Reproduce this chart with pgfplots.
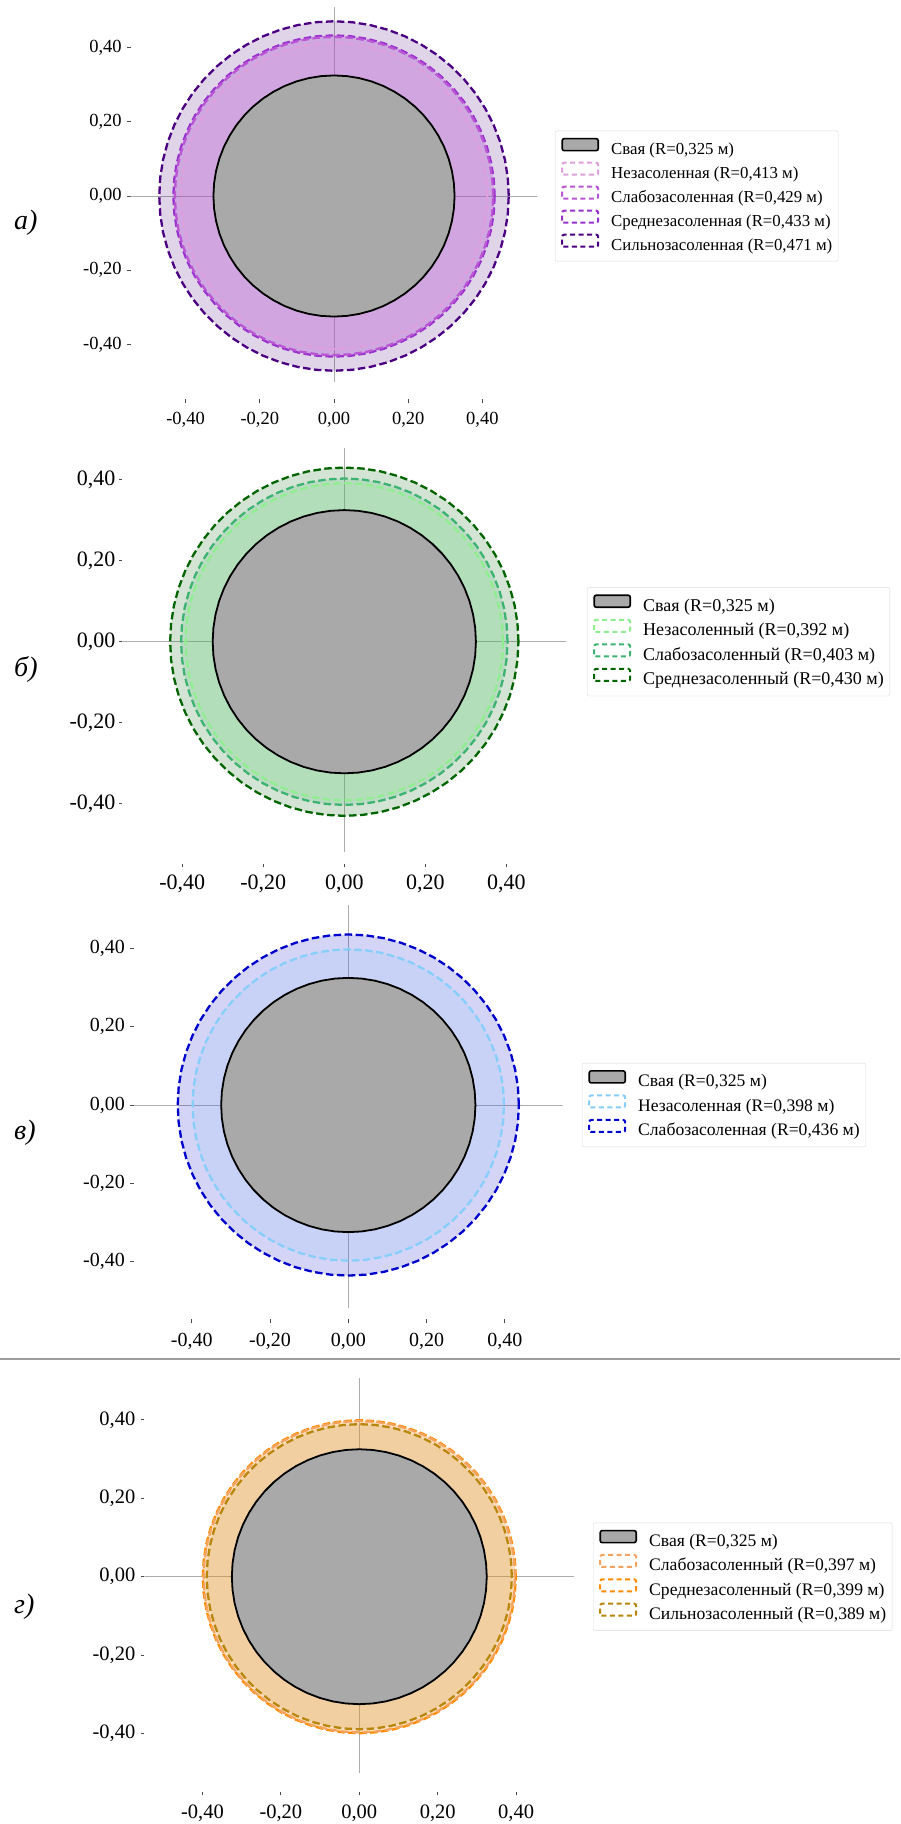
\documentclass[border=0pt]{standalone}
\usepackage{fontspec}
\setmainfont{Liberation Serif}
\usepackage{pgfplots}
\usepackage{pgfplotstable}
\pgfplotsset{compat=1.18}

\definecolor{pilegray}{HTML}{A9A9A9}
\definecolor{cplum}{HTML}{DDA0DD}
\definecolor{cmorchid}{HTML}{BA55D3}
\definecolor{cdorchid}{HTML}{9932CC}
\definecolor{cindigo}{HTML}{4B0082}
\definecolor{clgreen}{HTML}{90EE90}
\definecolor{cseagreen}{HTML}{3CB371}
\definecolor{cdgreen}{HTML}{006400}
\definecolor{clsky}{HTML}{87CEFA}
\definecolor{cmblue}{HTML}{0000CD}
\definecolor{csandy}{HTML}{F4A460}
\definecolor{cdorange}{HTML}{FF8C00}
\definecolor{cgoldenrod}{HTML}{B8860B}

% polar tables: angle (deg) and radius (m) of every contour
\pgfplotstableread{
ang pile r1 r2 r3 r4
0 0.325 0.413 0.429 0.433 0.471
6 0.325 0.413 0.429 0.433 0.471
12 0.325 0.413 0.429 0.433 0.471
18 0.325 0.413 0.429 0.433 0.471
24 0.325 0.413 0.429 0.433 0.471
30 0.325 0.413 0.429 0.433 0.471
36 0.325 0.413 0.429 0.433 0.471
42 0.325 0.413 0.429 0.433 0.471
48 0.325 0.413 0.429 0.433 0.471
54 0.325 0.413 0.429 0.433 0.471
60 0.325 0.413 0.429 0.433 0.471
66 0.325 0.413 0.429 0.433 0.471
72 0.325 0.413 0.429 0.433 0.471
78 0.325 0.413 0.429 0.433 0.471
84 0.325 0.413 0.429 0.433 0.471
90 0.325 0.413 0.429 0.433 0.471
96 0.325 0.413 0.429 0.433 0.471
102 0.325 0.413 0.429 0.433 0.471
108 0.325 0.413 0.429 0.433 0.471
114 0.325 0.413 0.429 0.433 0.471
120 0.325 0.413 0.429 0.433 0.471
126 0.325 0.413 0.429 0.433 0.471
132 0.325 0.413 0.429 0.433 0.471
138 0.325 0.413 0.429 0.433 0.471
144 0.325 0.413 0.429 0.433 0.471
150 0.325 0.413 0.429 0.433 0.471
156 0.325 0.413 0.429 0.433 0.471
162 0.325 0.413 0.429 0.433 0.471
168 0.325 0.413 0.429 0.433 0.471
174 0.325 0.413 0.429 0.433 0.471
180 0.325 0.413 0.429 0.433 0.471
186 0.325 0.413 0.429 0.433 0.471
192 0.325 0.413 0.429 0.433 0.471
198 0.325 0.413 0.429 0.433 0.471
204 0.325 0.413 0.429 0.433 0.471
210 0.325 0.413 0.429 0.433 0.471
216 0.325 0.413 0.429 0.433 0.471
222 0.325 0.413 0.429 0.433 0.471
228 0.325 0.413 0.429 0.433 0.471
234 0.325 0.413 0.429 0.433 0.471
240 0.325 0.413 0.429 0.433 0.471
246 0.325 0.413 0.429 0.433 0.471
252 0.325 0.413 0.429 0.433 0.471
258 0.325 0.413 0.429 0.433 0.471
264 0.325 0.413 0.429 0.433 0.471
270 0.325 0.413 0.429 0.433 0.471
276 0.325 0.413 0.429 0.433 0.471
282 0.325 0.413 0.429 0.433 0.471
288 0.325 0.413 0.429 0.433 0.471
294 0.325 0.413 0.429 0.433 0.471
300 0.325 0.413 0.429 0.433 0.471
306 0.325 0.413 0.429 0.433 0.471
312 0.325 0.413 0.429 0.433 0.471
318 0.325 0.413 0.429 0.433 0.471
324 0.325 0.413 0.429 0.433 0.471
330 0.325 0.413 0.429 0.433 0.471
336 0.325 0.413 0.429 0.433 0.471
342 0.325 0.413 0.429 0.433 0.471
348 0.325 0.413 0.429 0.433 0.471
354 0.325 0.413 0.429 0.433 0.471
360 0.325 0.413 0.429 0.433 0.471
}\ringsA

\pgfplotstableread{
ang pile r1 r2 r3
0 0.325 0.392 0.403 0.430
6 0.325 0.392 0.403 0.430
12 0.325 0.392 0.403 0.430
18 0.325 0.392 0.403 0.430
24 0.325 0.392 0.403 0.430
30 0.325 0.392 0.403 0.430
36 0.325 0.392 0.403 0.430
42 0.325 0.392 0.403 0.430
48 0.325 0.392 0.403 0.430
54 0.325 0.392 0.403 0.430
60 0.325 0.392 0.403 0.430
66 0.325 0.392 0.403 0.430
72 0.325 0.392 0.403 0.430
78 0.325 0.392 0.403 0.430
84 0.325 0.392 0.403 0.430
90 0.325 0.392 0.403 0.430
96 0.325 0.392 0.403 0.430
102 0.325 0.392 0.403 0.430
108 0.325 0.392 0.403 0.430
114 0.325 0.392 0.403 0.430
120 0.325 0.392 0.403 0.430
126 0.325 0.392 0.403 0.430
132 0.325 0.392 0.403 0.430
138 0.325 0.392 0.403 0.430
144 0.325 0.392 0.403 0.430
150 0.325 0.392 0.403 0.430
156 0.325 0.392 0.403 0.430
162 0.325 0.392 0.403 0.430
168 0.325 0.392 0.403 0.430
174 0.325 0.392 0.403 0.430
180 0.325 0.392 0.403 0.430
186 0.325 0.392 0.403 0.430
192 0.325 0.392 0.403 0.430
198 0.325 0.392 0.403 0.430
204 0.325 0.392 0.403 0.430
210 0.325 0.392 0.403 0.430
216 0.325 0.392 0.403 0.430
222 0.325 0.392 0.403 0.430
228 0.325 0.392 0.403 0.430
234 0.325 0.392 0.403 0.430
240 0.325 0.392 0.403 0.430
246 0.325 0.392 0.403 0.430
252 0.325 0.392 0.403 0.430
258 0.325 0.392 0.403 0.430
264 0.325 0.392 0.403 0.430
270 0.325 0.392 0.403 0.430
276 0.325 0.392 0.403 0.430
282 0.325 0.392 0.403 0.430
288 0.325 0.392 0.403 0.430
294 0.325 0.392 0.403 0.430
300 0.325 0.392 0.403 0.430
306 0.325 0.392 0.403 0.430
312 0.325 0.392 0.403 0.430
318 0.325 0.392 0.403 0.430
324 0.325 0.392 0.403 0.430
330 0.325 0.392 0.403 0.430
336 0.325 0.392 0.403 0.430
342 0.325 0.392 0.403 0.430
348 0.325 0.392 0.403 0.430
354 0.325 0.392 0.403 0.430
360 0.325 0.392 0.403 0.430
}\ringsB

\pgfplotstableread{
ang pile r1 r2
0 0.325 0.398 0.436
6 0.325 0.398 0.436
12 0.325 0.398 0.436
18 0.325 0.398 0.436
24 0.325 0.398 0.436
30 0.325 0.398 0.436
36 0.325 0.398 0.436
42 0.325 0.398 0.436
48 0.325 0.398 0.436
54 0.325 0.398 0.436
60 0.325 0.398 0.436
66 0.325 0.398 0.436
72 0.325 0.398 0.436
78 0.325 0.398 0.436
84 0.325 0.398 0.436
90 0.325 0.398 0.436
96 0.325 0.398 0.436
102 0.325 0.398 0.436
108 0.325 0.398 0.436
114 0.325 0.398 0.436
120 0.325 0.398 0.436
126 0.325 0.398 0.436
132 0.325 0.398 0.436
138 0.325 0.398 0.436
144 0.325 0.398 0.436
150 0.325 0.398 0.436
156 0.325 0.398 0.436
162 0.325 0.398 0.436
168 0.325 0.398 0.436
174 0.325 0.398 0.436
180 0.325 0.398 0.436
186 0.325 0.398 0.436
192 0.325 0.398 0.436
198 0.325 0.398 0.436
204 0.325 0.398 0.436
210 0.325 0.398 0.436
216 0.325 0.398 0.436
222 0.325 0.398 0.436
228 0.325 0.398 0.436
234 0.325 0.398 0.436
240 0.325 0.398 0.436
246 0.325 0.398 0.436
252 0.325 0.398 0.436
258 0.325 0.398 0.436
264 0.325 0.398 0.436
270 0.325 0.398 0.436
276 0.325 0.398 0.436
282 0.325 0.398 0.436
288 0.325 0.398 0.436
294 0.325 0.398 0.436
300 0.325 0.398 0.436
306 0.325 0.398 0.436
312 0.325 0.398 0.436
318 0.325 0.398 0.436
324 0.325 0.398 0.436
330 0.325 0.398 0.436
336 0.325 0.398 0.436
342 0.325 0.398 0.436
348 0.325 0.398 0.436
354 0.325 0.398 0.436
360 0.325 0.398 0.436
}\ringsC

\pgfplotstableread{
ang pile r1 r2 r3
0 0.325 0.397 0.399 0.389
6 0.325 0.397 0.399 0.389
12 0.325 0.397 0.399 0.389
18 0.325 0.397 0.399 0.389
24 0.325 0.397 0.399 0.389
30 0.325 0.397 0.399 0.389
36 0.325 0.397 0.399 0.389
42 0.325 0.397 0.399 0.389
48 0.325 0.397 0.399 0.389
54 0.325 0.397 0.399 0.389
60 0.325 0.397 0.399 0.389
66 0.325 0.397 0.399 0.389
72 0.325 0.397 0.399 0.389
78 0.325 0.397 0.399 0.389
84 0.325 0.397 0.399 0.389
90 0.325 0.397 0.399 0.389
96 0.325 0.397 0.399 0.389
102 0.325 0.397 0.399 0.389
108 0.325 0.397 0.399 0.389
114 0.325 0.397 0.399 0.389
120 0.325 0.397 0.399 0.389
126 0.325 0.397 0.399 0.389
132 0.325 0.397 0.399 0.389
138 0.325 0.397 0.399 0.389
144 0.325 0.397 0.399 0.389
150 0.325 0.397 0.399 0.389
156 0.325 0.397 0.399 0.389
162 0.325 0.397 0.399 0.389
168 0.325 0.397 0.399 0.389
174 0.325 0.397 0.399 0.389
180 0.325 0.397 0.399 0.389
186 0.325 0.397 0.399 0.389
192 0.325 0.397 0.399 0.389
198 0.325 0.397 0.399 0.389
204 0.325 0.397 0.399 0.389
210 0.325 0.397 0.399 0.389
216 0.325 0.397 0.399 0.389
222 0.325 0.397 0.399 0.389
228 0.325 0.397 0.399 0.389
234 0.325 0.397 0.399 0.389
240 0.325 0.397 0.399 0.389
246 0.325 0.397 0.399 0.389
252 0.325 0.397 0.399 0.389
258 0.325 0.397 0.399 0.389
264 0.325 0.397 0.399 0.389
270 0.325 0.397 0.399 0.389
276 0.325 0.397 0.399 0.389
282 0.325 0.397 0.399 0.389
288 0.325 0.397 0.399 0.389
294 0.325 0.397 0.399 0.389
300 0.325 0.397 0.399 0.389
306 0.325 0.397 0.399 0.389
312 0.325 0.397 0.399 0.389
318 0.325 0.397 0.399 0.389
324 0.325 0.397 0.399 0.389
330 0.325 0.397 0.399 0.389
336 0.325 0.397 0.399 0.389
342 0.325 0.397 0.399 0.389
348 0.325 0.397 0.399 0.389
354 0.325 0.397 0.399 0.389
360 0.325 0.397 0.399 0.389
}\ringsD

\pgfplotsset{
  ring panel/.style={
    anchor=origin,
    xmin=-0.548, xmax=0.548, ymin=-0.548, ymax=0.548,
    axis x line*=bottom, axis y line*=left,
    axis line style={draw=none},
    xtick={-0.4,-0.2,0,0.2,0.4}, ytick={-0.4,-0.2,0,0.2,0.4},
    tick align=outside, major tick length=3.5pt,
    tick style={color=black!70, line width=0.9pt},
    /pgf/number format/.cd, fixed, fixed zerofill, precision=2, use comma,
      assume math mode=true, /pgfplots/.cd,
    legend cell align=left,
    legend style={draw=black!15, rounded corners=2pt, fill=white,
      anchor=west, inner xsep=6pt, inner ysep=7pt, column sep=12pt},
  },
  zone/.style={draw=#1, fill=#1, fill opacity=0.17, line width=2.3pt,
    dash pattern=on 7.5pt off 3.5pt, data cs=polar, forget plot},
  pile/.style={draw=black, fill=pilegray, line width=1.8pt,
    data cs=polar, forget plot},
  zeroline/.style={draw=black!32, line width=0.6pt, forget plot},
  zone key/.style={legend image code/.code={%
    \draw[draw=#1, line width=2pt, dash pattern=on 5pt off 3.5pt, fill=white]
      (0pt,-0.5pt) rectangle (36pt,11.5pt);}},
  pile key/.style={legend image code/.code={%
    \draw[draw=black, fill=pilegray, line width=1.6pt]
      (0pt,-0.5pt) rectangle (36pt,11.5pt);}},
}

\begin{document}
\begin{tikzpicture}
\useasboundingbox (0pt,0pt) rectangle (900pt,-1824pt);
\fill[white] (0pt,0pt) rectangle (900pt,-1824pt);

% ---- а) ----
\begin{axis}[ring panel, at={(334pt,-196pt)}, x=371pt, y=371pt,
  ticklabel style={font=\fontsize{18.5}{20}\selectfont},
  xticklabel style={yshift=-6pt}, yticklabel style={xshift=-2pt},
  legend style={at={(1.0435,0.5)}, font=\fontsize{16.8}{19}\selectfont,
    row sep=3.5pt, nodes={inner sep=0pt, text height=12pt, text depth=4pt}}]
\addlegendimage{pile key}\addlegendentry{Свая (R=0,325 м)}
\addlegendimage{zone key=cplum}\addlegendentry{Незасоленная (R=0,413 м)}
\addlegendimage{zone key=cmorchid}\addlegendentry{Слабозасоленная (R=0,429 м)}
\addlegendimage{zone key=cdorchid}\addlegendentry{Среднезасоленная (R=0,433 м)}
\addlegendimage{zone key=cindigo}\addlegendentry{Сильнозасоленная (R=0,471 м)}
\addplot[zeroline] coordinates {(-0.55,0) (0.55,0)};
\addplot[zeroline] coordinates {(0,-0.5) (0,0.51)};
\addplot[zone=cindigo] table[x=ang, y=r4] {\ringsA};
\addplot[zone=cdorchid] table[x=ang, y=r3] {\ringsA};
\addplot[zone=cmorchid] table[x=ang, y=r2] {\ringsA};
\addplot[zone=cplum] table[x=ang, y=r1] {\ringsA};
\addplot[pile] table[x=ang, y=pile] {\ringsA};
\end{axis}

% ---- б) ----
\begin{axis}[ring panel, at={(344.3pt,-641.7pt)}, x=405pt, y=405pt,
  ticklabel style={font=\fontsize{22}{24}\selectfont},
  xticklabel style={yshift=-4.5pt},
  legend style={at={(1.0468,0.5)}, font=\fontsize{18}{20}\selectfont,
    row sep=3.4pt, nodes={inner sep=0pt, text height=13pt, text depth=4.3pt}}]
\addlegendimage{pile key}\addlegendentry{Свая (R=0,325 м)}
\addlegendimage{zone key=clgreen}\addlegendentry{Незасоленный (R=0,392 м)}
\addlegendimage{zone key=cseagreen}\addlegendentry{Слабозасоленный (R=0,403 м)}
\addlegendimage{zone key=cdgreen}\addlegendentry{Среднезасоленный (R=0,430 м)}
\addplot[zeroline] coordinates {(-0.55,0) (0.55,0)};
\addplot[zeroline] coordinates {(0,-0.52) (0,0.478)};
\addplot[zone=cdgreen] table[x=ang, y=r3] {\ringsB};
\addplot[zone=cseagreen] table[x=ang, y=r2] {\ringsB};
\addplot[zone=clgreen] table[x=ang, y=r1] {\ringsB};
\addplot[pile] table[x=ang, y=pile] {\ringsB};
\end{axis}

% ---- в) ----
\begin{axis}[ring panel, at={(348.3pt,-1105pt)}, x=391.2pt, y=391.2pt,
  ticklabel style={font=\fontsize{20}{22}\selectfont},
  xticklabel style={yshift=-7pt}, yticklabel style={xshift=-2pt},
  legend style={at={(1.0451,0.5)}, font=\fontsize{17.6}{20}\selectfont,
    row sep=3.6pt, nodes={inner sep=0pt, text height=12.7pt, text depth=4.2pt}}]
\addlegendimage{pile key}\addlegendentry{Свая (R=0,325 м)}
\addlegendimage{zone key=clsky}\addlegendentry{Незасоленная (R=0,398 м)}
\addlegendimage{zone key=cmblue}\addlegendentry{Слабозасоленная (R=0,436 м)}
\addplot[zeroline] coordinates {(-0.55,0) (0.55,0)};
\addplot[zeroline] coordinates {(0,-0.52) (0,0.51)};
\addplot[zone=cmblue] table[x=ang, y=r2] {\ringsC};
\addplot[zone=clsky] table[x=ang, y=r1] {\ringsC};
\addplot[pile] table[x=ang, y=pile] {\ringsC};
\end{axis}

% ---- г) ----
\begin{axis}[ring panel, at={(359.3pt,-1576.7pt)}, x=392.2pt, y=392.2pt,
  ticklabel style={font=\fontsize{20.5}{22}\selectfont},
  xticklabel style={yshift=-6pt}, yticklabel style={xshift=-2pt},
  legend style={at={(1.0437,0.5)}, font=\fontsize{17.6}{20}\selectfont,
    row sep=3.4pt, nodes={inner sep=0pt, text height=12.7pt, text depth=4.2pt}}]
\addlegendimage{pile key}\addlegendentry{Свая (R=0,325 м)}
\addlegendimage{zone key=csandy}\addlegendentry{Слабозасоленный (R=0,397 м)}
\addlegendimage{zone key=cdorange}\addlegendentry{Среднезасоленный (R=0,399 м)}
\addlegendimage{zone key=cgoldenrod}\addlegendentry{Сильнозасоленный (R=0,389 м)}
\addplot[zeroline] coordinates {(-0.55,0) (0.55,0)};
\addplot[zeroline] coordinates {(0,-0.5) (0,0.506)};
\addplot[zone=cdorange] table[x=ang, y=r2] {\ringsD};
\addplot[zone=csandy] table[x=ang, y=r1] {\ringsD};
\addplot[zone=cgoldenrod] table[x=ang, y=r3] {\ringsD};
\addplot[pile] table[x=ang, y=pile] {\ringsD};
\end{axis}

% panel letters and the rule above the last panel
\begin{scope}[every node/.style={anchor=base west, inner sep=0pt,
    font=\fontsize{28}{30}\selectfont\itshape}]
\node at (14pt,-229pt) {а)};
\node at (14pt,-676pt) {б)};
\node at (14pt,-1139pt) {в)};
\node at (14pt,-1613pt) {г)};
\end{scope}
\draw[black!38, line width=1.2pt] (0pt,-1359pt) -- (900pt,-1359pt);
\end{tikzpicture}
\end{document}
